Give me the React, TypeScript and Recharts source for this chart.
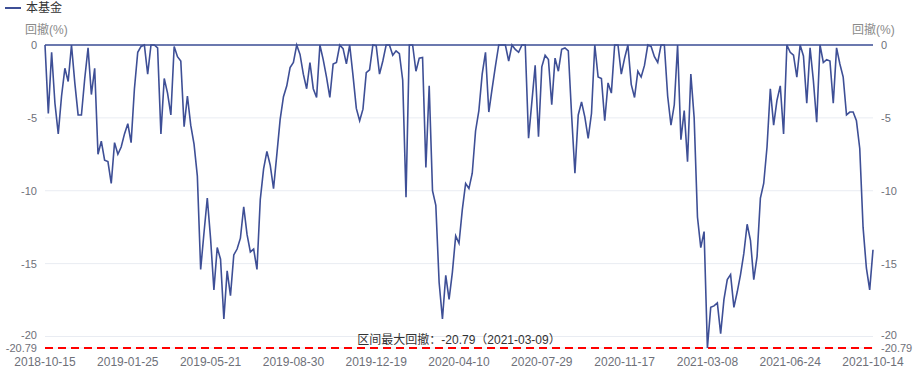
import {
  CartesianGrid,
  Line,
  LineChart,
  ReferenceLine,
  XAxis,
  YAxis,
} from "recharts";

// tick labels on the date axis (evenly spaced trading days)
const tickDates = [
  "2018-10-15",
  "2019-01-25",
  "2019-05-21",
  "2019-08-30",
  "2019-12-19",
  "2020-04-10",
  "2020-07-29",
  "2020-11-17",
  "2021-03-08",
  "2021-06-24",
  "2021-10-14",
];

const yTicks = [0, -5, -10, -15, -20, -20.79];

const maxDrawdown = -20.79;
const maxDrawdownDate = "2021-03-09";

const drawdown = [
  0, -4.7, -0.5, -4.0, -6.1, -3.5, -1.6, -2.5, 0, -2.6,
  -4.8, -4.8, -2.3, -0.2, -3.4, -1.6, -7.5, -6.6, -7.9, -8.0,
  -9.5, -6.7, -7.5, -7.0, -6.1, -5.4, -6.7, -3.0, -0.5, -0.1,
  0, -2.0, 0, 0, -0.2, -6.1, -2.3, -3.3, -4.8, -0.1,
  -0.8, -1.1, -5.6, -3.5, -5.5, -6.8, -9.0, -15.4, -12.9, -10.5,
  -13.3, -16.8, -13.9, -14.7, -18.8, -15.5, -17.2, -14.4, -14.0, -13.25,
  -11.1, -13.0, -14.2, -14.0, -15.4, -10.6, -8.5, -7.3, -8.25, -9.85,
  -7.5, -5.1, -3.55, -2.8, -1.55, -1.2, 0, -0.65, -2.0, -3.0,
  -1.2, -3.0, -3.6, 0, -1.0, -2.2, -3.6, -1.3, -1.2, 0,
  -0.25, -1.3, 0, -2.1, -4.35, -5.2, -4.4, -1.9, -1.7, 0,
  -0.05, -2.0, -1.1, 0, 0, -0.7, -0.4, -0.6, -2.4, -10.45,
  0, 0, -1.8, -0.9, -0.85, -8.4, -2.8, -10.0, -11.0, -16.3,
  -18.8, -15.8, -17.45, -15.6, -13.1, -13.6, -11.3, -9.5, -9.85, -8.8,
  -5.9, -4.5, -2.0, -0.5, -4.6, -3.0, -1.45, 0, 0, 0,
  -1.1, 0, -0.3, -0.5, 0, 0, -6.4, -3.9, -1.4, -6.3,
  -1.5, -0.7, -1.0, -4.1, -0.9, -1.8, -0.3, -0.2, -0.4, -4.8,
  -8.8, -4.8, -3.9, -4.95, -6.4, -4.7, 0, -2.2, -2.3, -5.2,
  -2.6, -3.3, 0, 0, -2.0, -0.9, 0, -2.7, -3.6, -1.8,
  -2.2, -1.4, 0, -0.1, -0.8, -1.2, 0, 0, -3.5, -5.5,
  -4.1, 0, -6.5, -4.5, -8.0, -2.0, -5.0, -11.8, -13.9, -12.8,
  -20.79, -18.0, -17.9, -17.7, -19.8, -17.45, -16.1, -15.75, -18.0, -16.95,
  -15.75, -14.3, -12.3, -13.4, -16.1, -14.5, -10.5, -9.5, -7.0, -3.0,
  -5.5, -3.8, -2.8, -6.1, 0, -0.5, -0.7, -2.2, 0, -0.75,
  -4.0, -0.2, -2.45, -5.3, 0, -1.2, -1.0, -1.1, -4.0, -0.2,
  -1.3, -2.2, -4.8, -4.6, -4.6, -5.2, -7.1, -12.5, -15.3, -16.8,
  -14.05,
];

const LINE_COLOR = "#3E4F96";
const AXIS_TEXT = "#6E7079";
const FONT = "'Liberation Sans', 'Noto Sans CJK SC', sans-serif";

const step = (drawdown.length - 1) / (tickDates.length - 1);
const xTicks = tickDates.map((_, k) => k * step);

const data = drawdown.map((v, i) => ({ idx: i, dd: v }));

// y tick label; -20 sits right above -20.79, lift it a touch
const YTick = (props: any) => {
  const { x, y, payload, anchor } = props;
  const v = payload.value;
  const shift = v === -20 ? -1.5 : 0;
  return (
    <text
      x={x}
      y={y + shift}
      dy="0.355em"
      textAnchor={anchor}
      fill={AXIS_TEXT}
      fontSize={11}
    >
      {v}
    </text>
  );
};

export default function App() {
  return (
    <div
      style={{
        position: "absolute",
        left: 0,
        top: 0,
        width: 916,
        height: 371,
        background: "#fff",
        fontFamily: FONT,
      }}
    >
      {/* legend */}
      <div
        style={{
          position: "absolute",
          left: 5,
          top: 7,
          width: 16,
          height: 2,
          background: LINE_COLOR,
        }}
      />
      <div
        style={{
          position: "absolute",
          left: 26,
          top: 0,
          fontSize: 12,
          lineHeight: "16px",
          color: "#333",
        }}
      >
        本基金
      </div>
      {/* axis names */}
      <div
        style={{
          position: "absolute",
          left: 25,
          top: 22,
          fontSize: 12,
          lineHeight: "16px",
          color: "#8A8A8A",
        }}
      >
        回撤(%)
      </div>
      <div
        style={{
          position: "absolute",
          left: 852,
          top: 22,
          fontSize: 12,
          lineHeight: "16px",
          color: "#8A8A8A",
        }}
      >
        回撤(%)
      </div>

      <LineChart
        width={916}
        height={371}
        data={data}
        margin={{ top: 45, right: 0, bottom: 0, left: 0 }}
      >
        <CartesianGrid yAxisId="left" vertical={false} stroke="#E9ECF2" />
        <XAxis
          dataKey="idx"
          type="number"
          domain={[0, drawdown.length - 1]}
          ticks={xTicks}
          interval={0}
          tickFormatter={(v: number) => tickDates[Math.round(v / step)]}
          axisLine={false}
          tickLine={false}
          tickMargin={3}
          height={23}
          tick={{ fontSize: 12, fill: AXIS_TEXT }}
        />
        <YAxis
          yAxisId="left"
          orientation="left"
          width={45}
          domain={[maxDrawdown, 0]}
          ticks={yTicks}
          interval={0}
          axisLine={false}
          tickLine={false}
          tick={(p: any) => <YTick {...p} anchor="end" />}
        />
        <YAxis
          yAxisId="right"
          orientation="right"
          width={43}
          domain={[maxDrawdown, 0]}
          ticks={yTicks}
          interval={0}
          axisLine={false}
          tickLine={false}
          tick={(p: any) => <YTick {...p} anchor="start" />}
        />
        <ReferenceLine
          yAxisId="left"
          y={0}
          stroke={LINE_COLOR}
          strokeWidth={1.5}
        />
        <ReferenceLine
          yAxisId="left"
          y={maxDrawdown}
          stroke="#FF0000"
          strokeWidth={2}
          strokeDasharray="8 5"
          label={{
            value: `区间最大回撤：${maxDrawdown}（${maxDrawdownDate}）`,
            position: "top",
            offset: 4,
            fill: "#333",
            fontSize: 12,
          }}
        />
        <Line
          yAxisId="right"
          dataKey="dd"
          stroke="none"
          dot={false}
          activeDot={false}
          legendType="none"
          isAnimationActive={false}
        />
        <Line
          yAxisId="left"
          type="linear"
          dataKey="dd"
          stroke={LINE_COLOR}
          strokeWidth={1.6}
          dot={false}
          isAnimationActive={false}
        />
      </LineChart>
    </div>
  );
}
